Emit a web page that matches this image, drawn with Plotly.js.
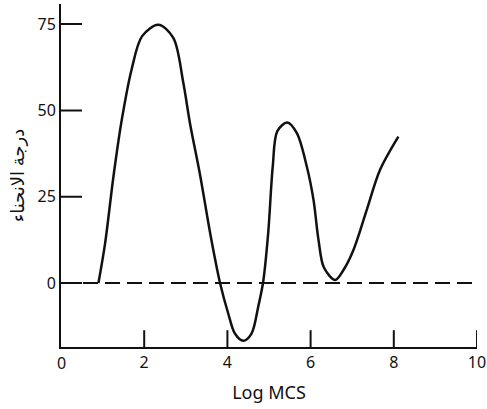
<!DOCTYPE html>
<html><head><meta charset="utf-8">
<script src="https://cdn.plot.ly/plotly-3.0.1.min.js"></script>
<style>html,body{margin:0;padding:0;background:#fff}</style>
</head><body><div id="chart" style="width:487px;height:409px"></div>
<script>
const curveX = [0.9, 1.06, 1.26, 1.46, 1.70, 1.95, 2.34, 2.70, 2.94, 3.10, 3.34, 3.60, 3.82, 4.02, 4.18, 4.38, 4.58, 4.74, 4.86, 4.98, 5.09, 5.20, 5.44, 5.67, 5.91, 6.07, 6.19, 6.32, 6.59, 6.79, 7.03, 7.35, 7.67, 8.11];
const curveY = [0, 11.5, 30.8, 47.2, 62, 71.5, 74.8, 71, 58, 46.3, 31.5, 13.5, 0.2, -8.8, -14.6, -16.7, -14.6, -6.9, 0.4, 14.4, 33.7, 44, 46.5, 43.4, 33.7, 24.1, 12.5, 4.5, 0.9, 3.8, 9.6, 21.2, 32.8, 42.4];
const baselineX = [0, 10];
const baselineY = [0, 0];
const xTicks = [2, 4, 6, 8, 10];
const yTicks = [0, 25, 50, 75];
const xTitle = 'Log MCS';
const yTitle = 'درجة الانحناء';

const fam = 'Noto Sans, DejaVu Sans, sans-serif';
const font = {family: fam, size: 16, color: '#111'};
const xRange = [0, 10], yRange = [-18.5, 80.8];

// inward tick marks: line markers centred on the axis lines, half clipped by the plot area
const xTickMarks = {x: xTicks, y: xTicks.map(() => yRange[0]), mode: 'markers', hoverinfo: 'skip',
  marker: {symbol: 'line-ns', size: 24, color: '#111', line: {color: '#111', width: 2}}, cliponaxis: true};
const yTickMarks = {x: yTicks.map(() => xRange[0]), y: yTicks, mode: 'markers', hoverinfo: 'skip',
  marker: {symbol: 'line-ew', size: 30, color: '#111', line: {color: '#111', width: 2}}, cliponaxis: true};

Plotly.newPlot('chart', [
  {x: baselineX, y: baselineY, mode: 'lines', line: {color: '#111', width: 2, dash: '15px,7px'}, hoverinfo: 'skip'},
  {x: curveX, y: curveY, mode: 'lines', line: {color: '#111', width: 2.5, shape: 'spline', smoothing: 0.9}},
  xTickMarks, yTickMarks
], {
  width: 487, height: 409,
  margin: {l: 61, r: 10, t: 4, b: 62},
  showlegend: false,
  paper_bgcolor: '#fff', plot_bgcolor: '#fff',
  font: font,
  xaxis: {range: xRange, tickmode: 'array', tickvals: xTicks, ticktext: xTicks.map(String),
    ticks: '', showline: true, linecolor: '#111', linewidth: 2, showgrid: false, zeroline: false,
    title: {text: xTitle, font: {family: fam, size: 18, color: '#111'}, standoff: 14}},
  yaxis: {range: yRange, tickmode: 'array', tickvals: yTicks, ticktext: yTicks.map(String),
    ticks: '', showline: true, linecolor: '#111', linewidth: 2, showgrid: false, zeroline: false,
    title: {text: yTitle, font: {family: fam, size: 18, color: '#111'}, standoff: 8}},
  annotations: [{x: 0, y: 0, xref: 'x', yref: 'paper', text: '0', showarrow: false, yanchor: 'top', yshift: -3, font: font}]
}, {displayModeBar: false, staticPlot: true});
</script></body></html>
